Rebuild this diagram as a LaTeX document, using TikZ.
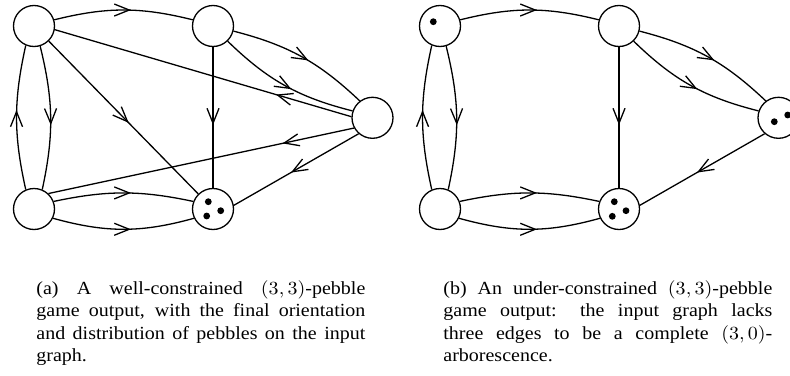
\documentclass[tikz,border=0pt]{standalone}
\usepackage[no-math]{fontspec}
\setmainfont{Liberation Serif}
\usetikzlibrary{arrows.meta,decorations.markings}
\tikzset{
  vtx/.style={circle,draw,line width=1.3pt,minimum size=41pt,inner sep=0pt},
  con/.style={line width=1.3pt},
  arr/.style={postaction={decorate,line width=1.3pt,decoration={markings,mark=at position #1 with {\arrow[xshift=7.5pt]{Straight Barb[length=15pt,width=12pt]}}}}},
  peb/.style={fill=black},
  captxt/.style={anchor=base west,inner sep=0pt,xscale=2,yscale=1.85,text width=164.5pt,align=justify,font=\fontsize{10}{12.22}\selectfont}
}
\begin{document}
\begin{tikzpicture}[x=1pt,y=1pt]
\useasboundingbox (0,0) rectangle (790,-375);
% left graph
\node[vtx] (aTL) at (34,-26) {};
\node[vtx] (aTM) at (213,-26) {};
\node[vtx] (aR) at (372.5,-117.8) {};
\node[vtx] (aBL) at (34,-209) {};
\node[vtx] (aBM) at (213,-209) {};
\draw[con,arr=0.5] (aTL.17) to[bend left=14] (aTM.163);
\draw[con,arr=0.5] (aBL.113) to[bend left=12.6] (aTL.247);
\draw[con,arr=0.5] (aTL.287) to[bend left=13] (aBL.67);
\draw[con,arr=0.5] (aTM.-14) to[bend left=14.5] (aR.127);
\draw[con,arr=0.5] (aTM.-46) to[bend right=15] (aR.161);
\draw[con,arr=0.5] (aTM) -- (aBM);
\draw[con,arr=0.5] (aTL) -- (aBM);
\draw[con,arr=0.23] (aR.177) -- (aTL.-10);
\draw[con,arr=0.21] (aR.209) -- (aBL.47);
\draw[con,arr=0.49] (aR.229) -- (aBM.10);
\draw[con,arr=0.5] (aBL.21) to[bend left=12] (aBM.159);
\draw[con,arr=0.5] (aBL.-26) to[bend right=15.5] (aBM.206);
\fill[peb] (208.3,-201.7) circle (3.4) (220.7,-210.7) circle (3.4) (206.7,-216) circle (3.4);
% right graph
\node[vtx] (bTL) at (440,-26) {};
\node[vtx] (bTM) at (619,-26) {};
\node[vtx] (bR) at (778.5,-117.8) {};
\node[vtx] (bBL) at (440,-209) {};
\node[vtx] (bBM) at (619,-209) {};
\draw[con,arr=0.5] (bTL.17) to[bend left=14] (bTM.163);
\draw[con,arr=0.5] (bBL.113) to[bend left=12.6] (bTL.247);
\draw[con,arr=0.5] (bTL.287) to[bend left=13] (bBL.67);
\draw[con,arr=0.5] (bTM.-14) to[bend left=14.5] (bR.127);
\draw[con,arr=0.5] (bTM.-46) to[bend right=15] (bR.161);
\draw[con,arr=0.5] (bTM) -- (bBM);
\draw[con,arr=0.49] (bR.229) -- (bBM.10);
\draw[con,arr=0.5] (bBL.21) to[bend left=12] (bBM.159);
\draw[con,arr=0.5] (bBL.-26) to[bend right=15.5] (bBM.206);
\fill[peb] (433.3,-21.7) circle (3.4);
\fill[peb] (614.3,-201.7) circle (3.4) (626,-210.7) circle (3.4) (612.3,-216.3) circle (3.4);
\fill[peb] (774.3,-121.7) circle (3.4) (787.7,-115) circle (3.4);
% captions
\node[captxt] (capa) at (36,-294) {(a) A well-constrained $(3,3)$-pebble\linebreak game output, with the final orientation\linebreak and distribution of pebbles on the input\linebreak graph.};
\node[captxt] (capb) at (443,-294) {(b) An under-constrained $(3,3)$-pebble\linebreak game output: the input graph lacks\linebreak three edges to be a complete $(3,0)$-\linebreak arborescence.};
\end{tikzpicture}
\end{document}
